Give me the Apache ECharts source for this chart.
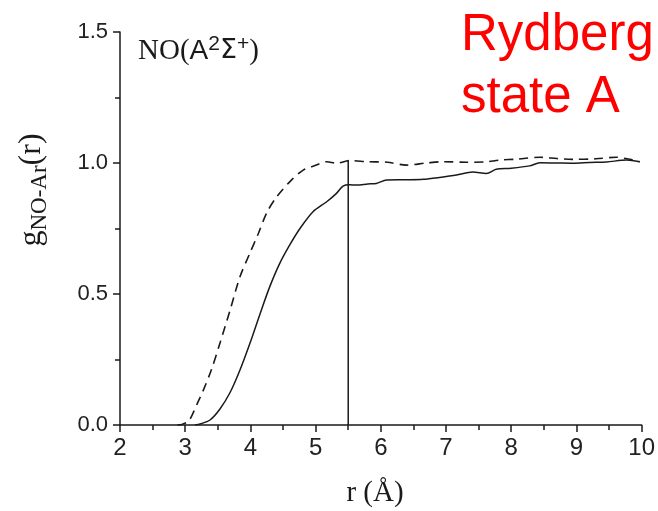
<!DOCTYPE html>
<html>
<head>
<meta charset="utf-8">
<script src="https://cdn.jsdelivr.net/npm/echarts@6/dist/echarts.min.js"></script>
<style>
  html, body { margin: 0; padding: 0; background: #fff; }
  #chart { width: 658px; height: 511px; }
</style>
</head>
<body>
<div id="chart"></div>
<script>
// Radial distribution function g(r) of NO–Ar, NO in the A²Σ⁺ state
var xTicks = [2, 3, 4, 5, 6, 7, 8, 9, 10];
var yTicks = [0.0, 0.5, 1.0, 1.5];

// dashed curve
var dashedR = [2.88, 2.95, 3.05, 3.12, 3.20, 3.28, 3.40, 3.53, 3.69, 3.84, 3.99, 4.12, 4.25, 4.40, 4.61, 4.81, 4.99, 5.17, 5.32, 5.52, 5.80, 6.10, 6.39, 6.70, 6.96, 7.31, 7.60, 7.82, 8.10, 8.44, 8.70, 8.94, 9.30, 9.61, 9.80, 9.97];
var dashedG = [0.000, 0.002, 0.015, 0.045, 0.090, 0.134, 0.210, 0.310, 0.440, 0.566, 0.655, 0.730, 0.810, 0.870, 0.930, 0.973, 0.990, 1.005, 0.999, 1.009, 1.005, 1.003, 0.992, 1.000, 1.005, 1.003, 1.004, 1.011, 1.015, 1.022, 1.017, 1.014, 1.016, 1.022, 1.015, 1.005];

// solid curve
var solidR = [3.15, 3.23, 3.38, 3.53, 3.69, 3.84, 3.99, 4.15, 4.30, 4.45, 4.61, 4.76, 4.96, 5.17, 5.32, 5.42, 5.52, 5.63, 5.80, 5.93, 6.09, 6.40, 6.65, 6.90, 7.16, 7.41, 7.62, 7.77, 8.00, 8.28, 8.44, 8.70, 8.95, 9.20, 9.46, 9.77, 9.97];
var solidG = [0.000, 0.004, 0.019, 0.060, 0.125, 0.210, 0.310, 0.426, 0.530, 0.617, 0.690, 0.750, 0.814, 0.852, 0.884, 0.912, 0.917, 0.916, 0.920, 0.922, 0.935, 0.936, 0.938, 0.945, 0.954, 0.966, 0.960, 0.976, 0.980, 0.989, 1.001, 1.000, 0.999, 1.002, 1.004, 1.011, 1.005];

// vertical marker at r = 5.5 Å
var markerR = [5.5, 5.5];
var markerG = [0.0, 1.01];

function zip(a, b) { return a.map(function (v, i) { return [v, b[i]]; }); }

var chart = echarts.init(document.getElementById('chart'), null, { renderer: 'canvas' });
var ink = '#1a1a1a';
var sans = '"Liberation Sans", Arial, sans-serif';
var serif = '"Liberation Serif", "Times New Roman", serif';

chart.setOption({
  backgroundColor: '#fff',
  animation: false,
  grid: { left: 120, right: 16, top: 32, bottom: 86, containLabel: false },
  xAxis: {
    type: 'value', min: xTicks[0], max: xTicks[xTicks.length - 1], interval: 1,
    axisLine: { show: true, onZero: false, lineStyle: { color: ink, width: 1.5 } },
    axisTick: { show: true, inside: false, length: 7, lineStyle: { color: ink, width: 1.5 } },
    minorTick: { show: true, splitNumber: 2, length: 5, lineStyle: { color: ink, width: 1.5 } },
    splitLine: { show: false },
    axisLabel: { color: '#222', fontFamily: sans, fontSize: 24, margin: 11 }
  },
  yAxis: {
    type: 'value', min: yTicks[0], max: yTicks[yTicks.length - 1], interval: 0.5,
    axisLine: { show: true, onZero: false, lineStyle: { color: ink, width: 1.5 } },
    axisTick: { show: true, inside: false, length: 7, lineStyle: { color: ink, width: 1.5 } },
    minorTick: { show: true, splitNumber: 2, length: 5, lineStyle: { color: ink, width: 1.5 } },
    splitLine: { show: false },
    axisLabel: { color: '#222', fontFamily: sans, fontSize: 22, margin: 12,
      formatter: function (v) { return v.toFixed(1); } }
  },
  series: [
    {
      type: 'line', data: zip(dashedR, dashedG), showSymbol: false, smooth: 0.3,
      lineStyle: { color: ink, width: 1.6, type: [9, 6] }
    },
    {
      type: 'line', data: zip(solidR, solidG), showSymbol: false, smooth: 0.3,
      lineStyle: { color: ink, width: 1.5, type: 'solid' }
    },
    {
      type: 'line', data: zip(markerR, markerG), showSymbol: false,
      lineStyle: { color: ink, width: 1.5 }
    }
  ],
  graphic: [
    {
      type: 'text', left: 461, top: 5,
      style: { text: 'Rydberg\nstate A', fill: '#ff0000', font: '51px ' + sans, lineHeight: 62 }
    },
    {
      type: 'text', x: 138, y: 51,
      style: {
        text: '{s|NO(}{a|A}{sup|2}{sig|Σ}{sup|+}{s|)}',
        verticalAlign: 'middle', fill: ink,
        rich: {
          s: { fontFamily: serif, fontSize: 29, lineHeight: 34, verticalAlign: 'middle' },
          a: { fontFamily: sans, fontSize: 28, lineHeight: 34, verticalAlign: 'middle' },
          sig: { fontFamily: '"DejaVu Sans", sans-serif', fontSize: 27, lineHeight: 34, verticalAlign: 'middle' },
          sup: { fontFamily: sans, fontSize: 21, lineHeight: 22, verticalAlign: 'top' }
        }
      }
    },
    {
      type: 'text', x: 32, y: 190, rotation: Math.PI / 2,
      style: {
        text: '{g|g}{sub|NO-Ar}{g|(r)}',
        align: 'center', verticalAlign: 'middle', fill: ink,
        rich: {
          g: { fontFamily: serif, fontSize: 32, lineHeight: 38, verticalAlign: 'middle' },
          sub: { fontFamily: serif, fontSize: 23, lineHeight: 22, verticalAlign: 'bottom' }
        }
      }
    },
    {
      type: 'text', x: 375, y: 493,
      style: { text: 'r (Å)', align: 'center', verticalAlign: 'middle', fill: ink, font: '29px ' + serif }
    }
  ]
});
</script>
</body>
</html>
